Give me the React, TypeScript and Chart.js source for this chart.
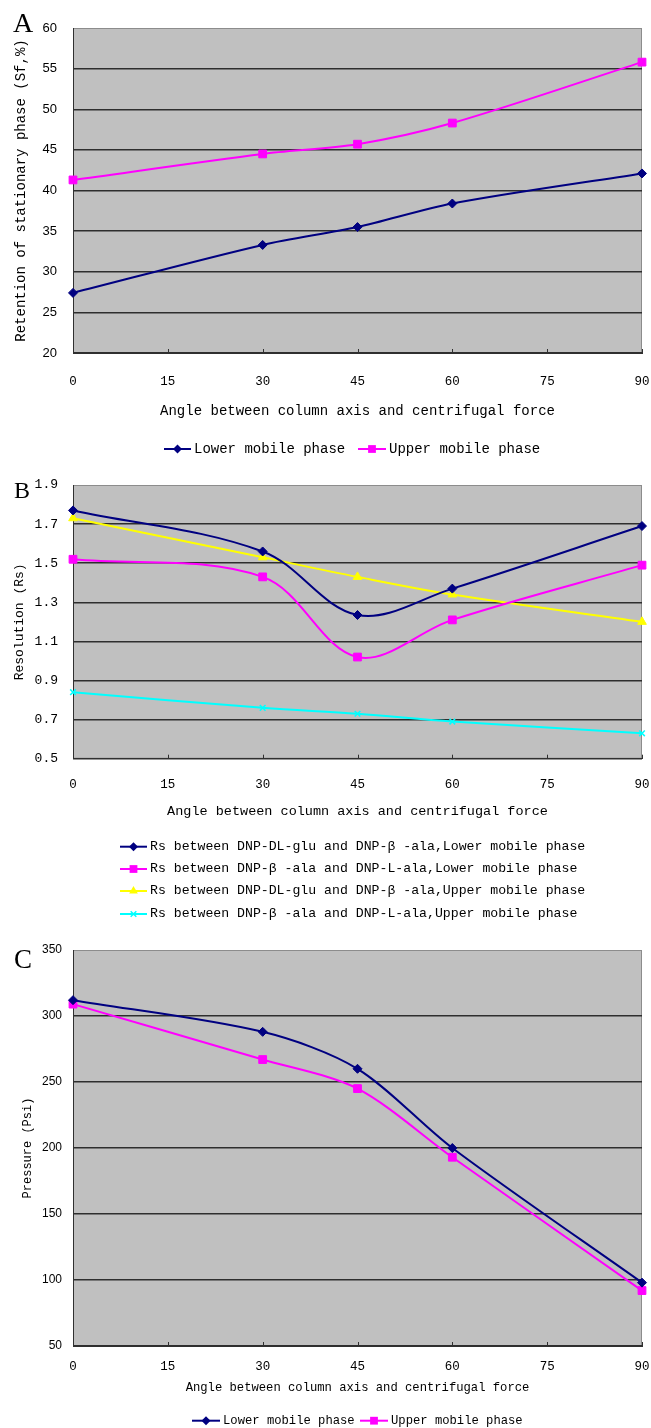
import React, { useEffect, useRef } from 'react';
import { Chart, registerables } from 'chart.js';

Chart.register(...registerables);

// ---------- data ----------
const angles = [0, 30, 45, 60, 90];

const retentionLower = [27.4, 33.3, 35.5, 38.4, 42.1];
const retentionUpper = [41.3, 44.5, 45.7, 48.3, 55.8];

const rsGluAlaLower = [1.77, 1.56, 1.235, 1.37, 1.69];
const rsAlaLalaLower = [1.52, 1.43, 1.02, 1.21, 1.49];
const rsGluAlaUpper = [1.73, 1.53, 1.43, 1.34, 1.2];
const rsAlaLalaUpper = [0.84, 0.76, 0.73, 0.69, 0.63];

const pressureLower = [312, 288, 260, 200, 98];
const pressureUpper = [309, 267, 245, 193, 92];

const xTitle = 'Angle between column axis and centrifugal force';
const labelsA = ['Lower mobile phase', 'Upper mobile phase'];
const labelsB = [
  'Rs between DNP-DL-glu and DNP-β -ala,Lower mobile phase',
  'Rs between DNP-β -ala and DNP-L-ala,Lower mobile phase',
  'Rs between DNP-DL-glu and DNP-β -ala,Upper mobile phase',
  'Rs between DNP-β -ala and DNP-L-ala,Upper mobile phase',
];
const labelsC = ['Lower mobile phase', 'Upper mobile phase'];

const MONO = "'Liberation Mono', 'DejaVu Sans Mono', monospace";
const SANS = "'Liberation Sans', Arial, sans-serif";
const SERIF = "'Liberation Serif', 'Times New Roman', serif";

const NAVY = '#000080';
const MAGENTA = '#ff00ff';
const YELLOW = '#ffff00';
const CYAN = '#00ffff';
const CLEAR = 'rgba(0,0,0,0)';

type Series = { label: string; data: number[]; color: string; marker: string; radius: number };

function buildDatasets(series: Series[], tension: number) {
  return series.map((s) => ({
    label: s.label,
    data: angles.map((a, i) => ({ x: a, y: s.data[i] })),
    borderColor: s.color,
    backgroundColor: s.color,
    borderWidth: 2,
    pointStyle: s.marker,
    pointRadius: s.radius,
    pointHoverRadius: s.radius,
    pointBorderWidth: s.marker === 'crossRot' ? 1.5 : 1,
    pointBackgroundColor: s.color,
    pointBorderColor: s.color,
    tension,
    clip: false as any,
    fill: false,
  }));
}

function drawMarker(ctx: CanvasRenderingContext2D, style: string, x: number, y: number, r: number, color: string) {
  ctx.save();
  ctx.fillStyle = color;
  ctx.strokeStyle = color;
  ctx.lineWidth = 1.5;
  ctx.beginPath();
  if (style === 'rectRot') {
    ctx.moveTo(x, y - r);
    ctx.lineTo(x + r, y);
    ctx.lineTo(x, y + r);
    ctx.lineTo(x - r, y);
    ctx.closePath();
    ctx.fill();
  } else if (style === 'rect') {
    const s = r * Math.SQRT1_2;
    ctx.rect(x - s, y - s, 2 * s, 2 * s);
    ctx.fill();
  } else if (style === 'triangle') {
    const h = r * 1.5;
    const w = r * Math.sqrt(3);
    ctx.moveTo(x, y - r);
    ctx.lineTo(x + w / 2, y - r + h);
    ctx.lineTo(x - w / 2, y - r + h);
    ctx.closePath();
    ctx.fill();
  } else {
    const d = r * Math.SQRT1_2;
    ctx.moveTo(x - d, y - d);
    ctx.lineTo(x + d, y + d);
    ctx.moveTo(x + d, y - d);
    ctx.lineTo(x - d, y + d);
    ctx.stroke();
  }
  ctx.restore();
}

const decorPlugin = {
  id: 'decor',
  beforeDraw(chart: any) {
    const { ctx, chartArea: a } = chart;
    ctx.save();
    ctx.fillStyle = '#c0c0c0';
    ctx.fillRect(a.left, a.top, a.right - a.left, a.bottom - a.top);
    ctx.strokeStyle = '#8c8c8c';
    ctx.lineWidth = 1;
    ctx.strokeRect(a.left + 0.5, a.top + 0.5, a.right - a.left - 1, a.bottom - a.top - 1);
    ctx.restore();
  },
  afterDraw(chart: any, _args: any, opts: any) {
    const { ctx, chartArea: a } = chart;
    const xs = chart.scales.x;
    ctx.save();
    ctx.strokeStyle = '#303030';
    ctx.lineWidth = 1;
    xs.ticks.forEach((t: any) => {
      const px = Math.round(xs.getPixelForValue(t.value)) + 0.5;
      ctx.beginPath();
      ctx.moveTo(px, a.bottom);
      ctx.lineTo(px, a.bottom - 4);
      ctx.stroke();
    });
    // legend
    ctx.font = opts.legendFont;
    ctx.textBaseline = 'middle';
    ctx.textAlign = 'left';
    chart.data.datasets.forEach((ds: any, i: number) => {
      const pos = opts.legend[i];
      if (!pos) return;
      ctx.strokeStyle = ds.borderColor;
      ctx.lineWidth = 2;
      ctx.beginPath();
      ctx.moveTo(pos.x, pos.y);
      ctx.lineTo(pos.x + pos.len, pos.y);
      ctx.stroke();
      drawMarker(ctx, ds.pointStyle, pos.x + pos.len / 2, pos.y, ds.pointRadius, ds.borderColor);
      ctx.fillStyle = '#000';
      ctx.fillText(ds.label, pos.x + pos.len + 3, pos.y);
    });
    // panel letter
    ctx.font = opts.letterFont;
    ctx.fillStyle = '#000';
    ctx.textBaseline = 'alphabetic';
    ctx.fillText(opts.letter, opts.letterX, opts.letterY);
    ctx.restore();
  },
};

type PanelCfg = {
  height: number;
  series: Series[];
  tension: number;
  yMin: number;
  yMax: number;
  yStep: number;
  yDecimals: number;
  yTickFont: any;
  yTickGap: number;
  yTitle: string;
  yTitleFont: any;
  yTitlePad: number;
  xTickFont: any;
  xTickGap: number;
  xTitleFont: any;
  xScaleHeight: number;
  padding: { top: number; right: number; bottom: number; left: number };
  decor: any;
};

function buildConfig(p: PanelCfg): any {
  return {
    type: 'line',
    data: { datasets: buildDatasets(p.series, p.tension) },
    plugins: [decorPlugin],
    options: {
      responsive: false,
      maintainAspectRatio: false,
      animation: false,
      events: [],
      layout: { padding: p.padding },
      plugins: {
        legend: { display: false },
        tooltip: { enabled: false },
        decor: p.decor,
      },
      scales: {
        x: {
          type: 'linear',
          min: 0,
          max: 90,
          ticks: { stepSize: 15, font: p.xTickFont, color: '#000', padding: 0, maxRotation: 0 },
          grid: {
            display: true,
            drawOnChartArea: false,
            drawTicks: true,
            tickLength: p.xTickGap,
            tickColor: CLEAR,
            color: CLEAR,
          },
          border: { display: true, color: '#303030', width: 1 },
          title: { display: true, text: xTitle, font: p.xTitleFont, color: '#000', padding: { top: 0, bottom: 0 } },
          afterFit: (scale: any) => {
            scale.height = p.xScaleHeight;
          },
        },
        y: {
          type: 'linear',
          min: p.yMin,
          max: p.yMax,
          ticks: {
            stepSize: p.yStep,
            font: p.yTickFont,
            color: '#000',
            padding: 0,
            callback: (v: any) => Number(v).toFixed(p.yDecimals),
          },
          grid: {
            drawTicks: true,
            tickLength: p.yTickGap,
            tickColor: CLEAR,
            color: (c: any) => (c.index === c.chart.scales.y.ticks.length - 1 ? CLEAR : '#2e2e2e'),
            lineWidth: 1.5,
          },
          border: { display: true, color: '#303030', width: 1 },
          title: { display: true, text: p.yTitle, font: p.yTitleFont, color: '#000', padding: { top: p.yTitlePad, bottom: 0 } },
          afterFit: (scale: any) => {
            scale.width = 73;
          },
        },
      },
    },
  };
}

const panelA: PanelCfg = {
  height: 470,
  series: [
    { label: labelsA[0], data: retentionLower, color: NAVY, marker: 'rectRot', radius: 4.5 },
    { label: labelsA[1], data: retentionUpper, color: MAGENTA, marker: 'rect', radius: 5.5 },
  ],
  tension: 0.3,
  yMin: 20,
  yMax: 60,
  yStep: 5,
  yDecimals: 0,
  yTickFont: { family: SANS, size: 13 },
  yTickGap: 16,
  yTitle: 'Retention of stationary phase (Sf,%)',
  yTitleFont: { family: MONO, size: 14 },
  yTitlePad: 12.6,
  xTickFont: { family: MONO, size: 12.5 },
  xTickGap: 21.5,
  xTitleFont: { family: MONO, size: 14 },
  xScaleHeight: 66.4,
  padding: { top: 28, right: 9, bottom: 50.6, left: 0 },
  decor: {
    legendFont: `14px ${MONO}`,
    legend: [
      { x: 164, y: 449, len: 27 },
      { x: 358, y: 449, len: 28 },
    ],
    letter: 'A',
    letterFont: `28px ${SERIF}`,
    letterX: 13,
    letterY: 32,
  },
};

const panelB: PanelCfg = {
  height: 460,
  series: [
    { label: labelsB[0], data: rsGluAlaLower, color: NAVY, marker: 'rectRot', radius: 4.5 },
    { label: labelsB[1], data: rsAlaLalaLower, color: MAGENTA, marker: 'rect', radius: 5.5 },
    { label: labelsB[2], data: rsGluAlaUpper, color: YELLOW, marker: 'triangle', radius: 5 },
    { label: labelsB[3], data: rsAlaLalaUpper, color: CYAN, marker: 'crossRot', radius: 4 },
  ],
  tension: 0.35,
  yMin: 0.5,
  yMax: 1.9,
  yStep: 0.2,
  yDecimals: 1,
  yTickFont: { family: MONO, size: 13 },
  yTickGap: 15,
  yTitle: 'Resolution (Rs)',
  yTitleFont: { family: MONO, size: 13 },
  yTitlePad: 11.7,
  xTickFont: { family: MONO, size: 12.5 },
  xTickGap: 18.8,
  xTitleFont: { family: MONO, size: 13.5 },
  xScaleHeight: 60.4,
  padding: { top: 15, right: 9, bottom: 110.9, left: 0 },
  decor: {
    legendFont: `13.2px ${MONO}`,
    legend: [
      { x: 120, y: 376.7, len: 27 },
      { x: 120, y: 399, len: 27 },
      { x: 120, y: 421, len: 27 },
      { x: 120, y: 444, len: 27 },
    ],
    letter: 'B',
    letterFont: `24px ${SERIF}`,
    letterX: 14,
    letterY: 28,
  },
};

const panelC: PanelCfg = {
  height: 498,
  series: [
    { label: labelsC[0], data: pressureLower, color: NAVY, marker: 'rectRot', radius: 4.5 },
    { label: labelsC[1], data: pressureUpper, color: MAGENTA, marker: 'rect', radius: 5.5 },
  ],
  tension: 0.3,
  yMin: 50,
  yMax: 350,
  yStep: 50,
  yDecimals: 0,
  yTickFont: { family: SANS, size: 12 },
  yTickGap: 11,
  yTitle: 'Pressure (Psi)',
  yTitleFont: { family: MONO, size: 12 },
  yTitlePad: 20.8,
  xTickFont: { family: MONO, size: 12.5 },
  xTickGap: 13.2,
  xTitleFont: { family: MONO, size: 12.2 },
  xScaleHeight: 49.2,
  padding: { top: 20, right: 9, bottom: 32.8, left: 0 },
  decor: {
    legendFont: `12.2px ${MONO}`,
    legend: [
      { x: 192, y: 490.7, len: 28 },
      { x: 360, y: 490.7, len: 28 },
    ],
    letter: 'C',
    letterFont: `27px ${SERIF}`,
    letterX: 14,
    letterY: 38,
  },
};

function Panel({ cfg, top }: { cfg: PanelCfg; top: number }) {
  const ref = useRef<HTMLCanvasElement | null>(null);
  useEffect(() => {
    if (!ref.current) return;
    const chart = new Chart(ref.current, buildConfig(cfg));
    return () => chart.destroy();
  }, [cfg]);
  return (
    <canvas
      ref={ref}
      width={651}
      height={cfg.height}
      style={{ position: 'absolute', left: 0, top, width: 651, height: cfg.height, display: 'block' }}
    />
  );
}

export default function App() {
  return (
    <div style={{ position: 'absolute', left: 0, top: 0, width: 651, height: 1428, background: '#ffffff', overflow: 'hidden' }}>
      <Panel cfg={panelA} top={0} />
      <Panel cfg={panelB} top={470} />
      <Panel cfg={panelC} top={930} />
    </div>
  );
}
